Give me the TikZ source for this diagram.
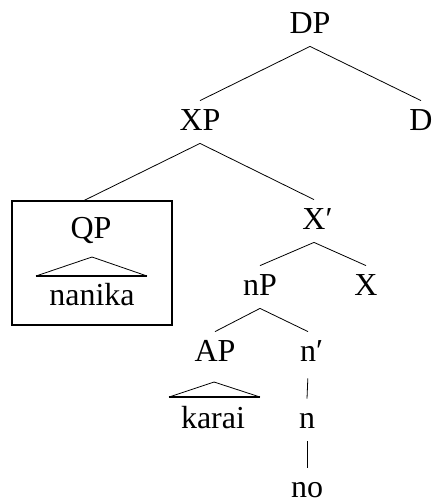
\documentclass[tikz,border=0pt]{standalone}
\usepackage{fontspec}
\setmainfont{Liberation Serif}
\tikzset{lab/.style={anchor=base,text height=27pt,text depth=11pt,inner sep=2pt,font=\fontsize{32}{38}\selectfont}}
\begin{document}
\begin{tikzpicture}[x=1pt,y=-1pt,line width=0.8pt]
\useasboundingbox (0,0) rectangle (433,501);
\node[lab] (DP) at (310,33) {DP};
\node[lab] (XP) at (200,130) {XP};
\node[lab] (D) at (421,130) {D};
\node[draw,line width=1.6pt,minimum width=160pt,minimum height=124pt] (qpbox) at (92,263) {};
\node[lab] (QP) at (91,238) {QP};
\node[lab] (nanika) at (92,305) {nanika};
\node[lab] (Xbar) at (314,229) {X\rlap{′}};
\node[lab] (nP) at (260,295) {nP};
\node[lab] (X) at (366,295) {X};
\node[lab] (AP) at (215,361) {AP};
\node[lab] (nbar) at (308,361) {n\rlap{′}};
\node[lab] (karai) at (213,428) {karai};
\node[lab] (n) at (307,428) {n};
\node[lab,text depth=1pt] (no) at (307,497) {no};
\coordinate (qpin) at (83,201);
\coordinate (qptop) at (92,257);
\coordinate (qpl) at (36,276);
\coordinate (qpr) at (147,276);
\coordinate (aptop) at (214,382);
\coordinate (apl) at (169,397);
\coordinate (apr) at (260,397);

\path (DP.south) edge (XP.north);
\path (DP.south) edge (D.north);
\path (XP.south) edge (qpin);
\path (XP.south) edge (Xbar.north);
\path (Xbar.south) edge (nP.north);
\path (Xbar.south) edge (X.north);
\path (nP.south) edge (AP.north);
\path (nP.south) edge (nbar.north);
\path (nbar.south) edge[shorten <=4pt] (n.north);
\path (n.south) edge (no.north);

\draw (qpl) -- (qptop) -- (qpr);
\draw[line width=1.6pt] (qpl) -- (qpr);
\draw (apl) -- (aptop) -- (apr);
\draw[line width=1.6pt] (apl) -- (apr);
\end{tikzpicture}
\end{document}
